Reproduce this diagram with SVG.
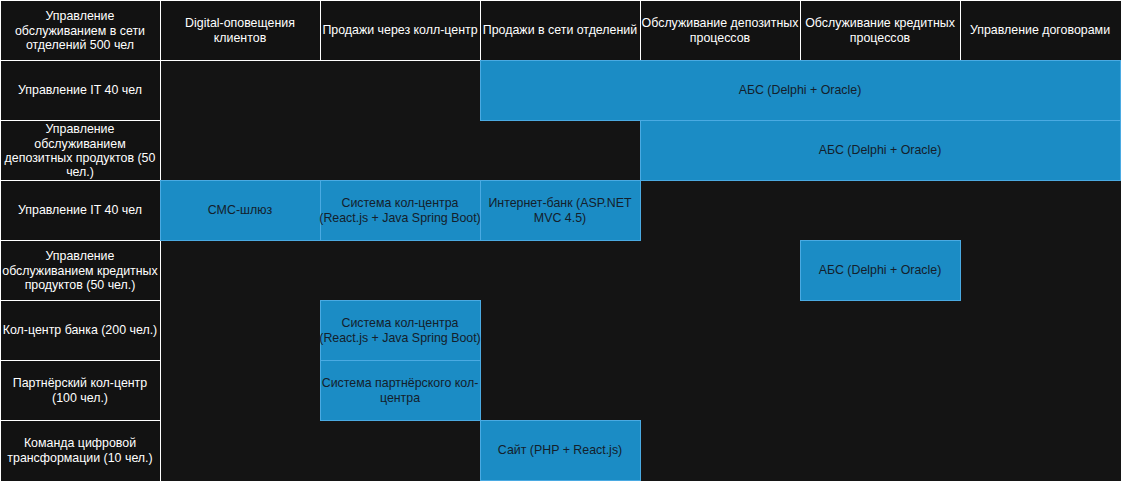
<svg xmlns="http://www.w3.org/2000/svg" width="1121" height="481" viewBox="0 0 1121 481">
<style>
.bg{fill:#141414}
.cell{fill:#121212;stroke:#ffffff;stroke-width:1}
.box{fill:#1b8cc5;stroke:#4aaae2;stroke-width:1}
.ht{font-family:"Liberation Sans",Arial,sans-serif;font-size:12.4px;fill:#ffffff;text-anchor:middle}
.bt{font-family:"Liberation Sans",Arial,sans-serif;font-size:12.4px;fill:#14202b;text-anchor:middle}
</style>
<rect class="bg" x="0" y="0" width="1121" height="481"/>
<g id="header">
<g id="h0"><rect class="cell" x="0.5" y="0.5" width="160" height="60"/><text class="ht" x="80" y="20">Управление</text><text class="ht" x="80" y="34.5">обслуживанием в сети</text><text class="ht" x="80" y="49">отделений 500 чел</text></g>
<g id="h1"><rect class="cell" x="160.5" y="0.5" width="160" height="60"/><text class="ht" x="240" y="27">Digital-оповещения</text><text class="ht" x="240" y="41.5">клиентов</text></g>
<g id="h2"><rect class="cell" x="320.5" y="0.5" width="160" height="60"/><text class="ht" x="400" y="34">Продажи через колл-центр</text></g>
<g id="h3"><rect class="cell" x="480.5" y="0.5" width="160" height="60"/><text class="ht" x="560" y="34">Продажи в сети отделений</text></g>
<g id="h4"><rect class="cell" x="640.5" y="0.5" width="160" height="60"/><text class="ht" x="720" y="27">Обслуживание депозитных</text><text class="ht" x="720" y="41.5">процессов</text></g>
<g id="h5"><rect class="cell" x="800.5" y="0.5" width="160" height="60"/><text class="ht" x="880" y="27">Обслуживание кредитных</text><text class="ht" x="880" y="41.5">процессов</text></g>
<g id="h6"><rect class="cell" x="960.5" y="0.5" width="162" height="60"/><text class="ht" x="1040" y="34">Управление договорами</text></g>
</g>
<g id="rows">
<g id="r1"><rect class="cell" x="0.5" y="60.5" width="160" height="60"/><text class="ht" x="80" y="94">Управление IT 40 чел</text></g>
<g id="r2"><rect class="cell" x="0.5" y="120.5" width="160" height="60"/><text class="ht" x="80" y="133">Управление</text><text class="ht" x="80" y="147.5">обслуживанием</text><text class="ht" x="80" y="162">депозитных продуктов (50</text><text class="ht" x="80" y="176">чел.)</text></g>
<g id="r3"><rect class="cell" x="0.5" y="180.5" width="160" height="60"/><text class="ht" x="80" y="214">Управление IT 40 чел</text></g>
<g id="r4"><rect class="cell" x="0.5" y="240.5" width="160" height="60"/><text class="ht" x="80" y="260">Управление</text><text class="ht" x="80" y="274.5">обслуживанием кредитных</text><text class="ht" x="80" y="289">продуктов (50 чел.)</text></g>
<g id="r5"><rect class="cell" x="0.5" y="300.5" width="160" height="60"/><text class="ht" x="80" y="334">Кол-центр банка (200 чел.)</text></g>
<g id="r6"><rect class="cell" x="0.5" y="360.5" width="160" height="60"/><text class="ht" x="80" y="387">Партнёрский кол-центр</text><text class="ht" x="80" y="401.5">(100 чел.)</text></g>
<g id="r7"><rect class="cell" x="0.5" y="420.5" width="160" height="62"/><text class="ht" x="80" y="447">Команда цифровой</text><text class="ht" x="80" y="461.5">трансформации (10 чел.)</text></g>
</g>
<g id="systems">
<g id="abs1"><rect class="box" x="480.5" y="60.5" width="640" height="60"/><text class="bt" x="800" y="94">АБС (Delphi + Oracle)</text></g>
<g id="abs2"><rect class="box" x="640.5" y="120.5" width="480" height="60"/><text class="bt" x="880" y="154">АБС (Delphi + Oracle)</text></g>
<g id="sms"><rect class="box" x="160.5" y="180.5" width="160" height="60"/><text class="bt" x="240" y="214">СМС-шлюз</text></g>
<g id="cc1"><rect class="box" x="320.5" y="180.5" width="160" height="60"/><text class="bt" x="400" y="207">Система кол-центра</text><text class="bt" x="400" y="221.5">(React.js + Java Spring Boot)</text></g>
<g id="ib"><rect class="box" x="480.5" y="180.5" width="160" height="60"/><text class="bt" x="560" y="207">Интернет-банк (ASP.NET</text><text class="bt" x="560" y="221.5">MVC 4.5)</text></g>
<g id="abs3"><rect class="box" x="800.5" y="240.5" width="160" height="60"/><text class="bt" x="880" y="274">АБС (Delphi + Oracle)</text></g>
<g id="cc2"><rect class="box" x="320.5" y="300.5" width="160" height="60"/><text class="bt" x="400" y="327">Система кол-центра</text><text class="bt" x="400" y="341.5">(React.js + Java Spring Boot)</text></g>
<g id="pcc"><rect class="box" x="320.5" y="360.5" width="160" height="60"/><text class="bt" x="400" y="387">Система партнёрского кол-</text><text class="bt" x="400" y="401.5">центра</text></g>
<g id="site"><rect class="box" x="480.5" y="420.5" width="160" height="60"/><text class="bt" x="560" y="454">Сайт (PHP + React.js)</text></g>
</g>
<g id="connectors"/>
</svg>
